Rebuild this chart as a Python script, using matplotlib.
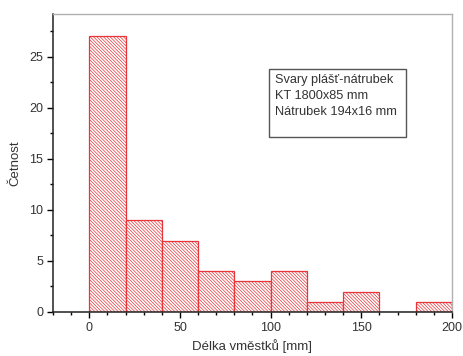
import matplotlib
matplotlib.use("Agg")
import matplotlib.pyplot as plt
from matplotlib.patches import Rectangle
from matplotlib.ticker import MultipleLocator

# histogram of inclusion lengths
bin_edges = [0, 20, 40, 60, 80, 100, 120, 140, 160, 180]
bin_width = 20
counts = [27, 9, 7, 4, 3, 4, 1, 2, 0, 1]
note_lines = ["Svary plášť-nátrubek", "KT 1800x85 mm", "Nátrubek 194x16 mm"]

plt.rcParams["font.family"] = ["Liberation Sans", "DejaVu Sans"]
plt.rcParams["hatch.linewidth"] = 0.5
plt.rcParams["hatch.color"] = "#f06468"

fig = plt.figure(figsize=(4.63, 3.56), dpi=100)
ax = fig.add_axes([0.1145, 0.1236, 0.8617, 0.8371])

ax.bar(bin_edges, counts, width=bin_width, align="edge",
       facecolor="white", edgecolor="#e8353a", linewidth=0.9,
       hatch="\\" * 10)

ax.set_xlim(-20, 200)
ax.set_ylim(0, 29.2)
ax.xaxis.set_major_locator(MultipleLocator(50))
ax.xaxis.set_minor_locator(MultipleLocator(10))
ax.yaxis.set_major_locator(MultipleLocator(5))
ax.yaxis.set_minor_locator(MultipleLocator(2.5))

ax.tick_params(which="major", direction="out", length=4, width=1,
               labelsize=9, labelcolor="#333333", pad=3)
ax.tick_params(which="minor", direction="out", length=2.5, width=1)

for side in ("left", "bottom"):
    ax.spines[side].set_linewidth(1.1)
    ax.spines[side].set_color("#222222")
for side in ("top", "right"):
    ax.spines[side].set_linewidth(1.0)
    ax.spines[side].set_color("#b0b0b0")

ax.set_xlabel("Délka vměstků [mm]", fontsize=9.5, color="#333333", labelpad=4)
ax.set_ylabel("Četnost", fontsize=9.5, color="#333333", labelpad=6)

# note box in upper right
ax.add_patch(Rectangle((0.541, 0.587), 0.343, 0.228, transform=ax.transAxes,
                       facecolor="white", edgecolor="#555555", linewidth=1.0,
                       zorder=5))
for i, line in enumerate(note_lines):
    ax.text(0.556, 0.779 - i * 0.054, line, transform=ax.transAxes,
            fontsize=9.2, color="#333333", va="center", ha="left", zorder=6)

fig.savefig("out.png", dpi=100)
